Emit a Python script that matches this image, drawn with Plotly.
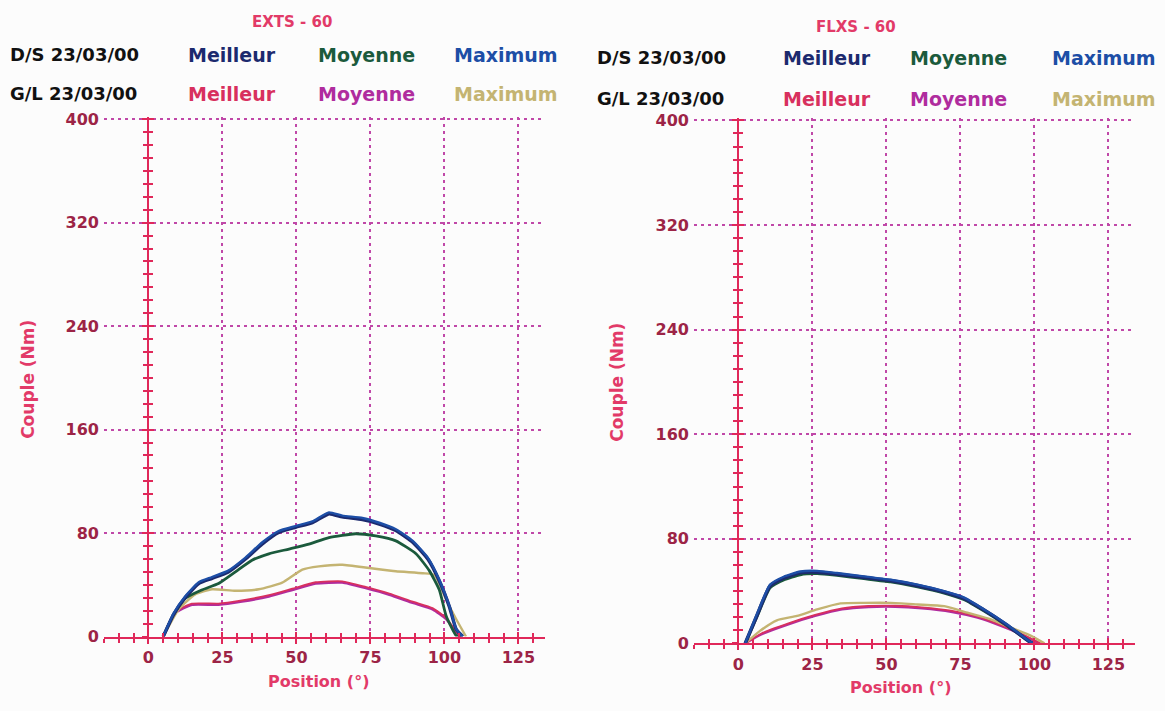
import plotly.graph_objects as go

# ---------------- data ----------------
# EXTS - 60 (left panel)
ext_ds_max_x = [5, 8.5, 12.4, 17, 21.5, 27, 32.8, 38.4, 44, 49.7, 55.4, 61, 65.5, 72.3, 78, 83.6, 89.3, 94.4, 98.3, 101.7, 104, 106.2]
ext_ds_max_y = [0, 18, 31, 42, 46, 51, 61, 72.7, 81.6, 85.4, 89, 96, 93.5, 91.7, 88, 83, 74, 61, 43.7, 23.5, 5.8, 0]
ext_ds_best_y = [0, 17, 30, 41, 45, 50, 60, 71.5, 80.5, 84.5, 88, 95, 92.5, 90.5, 87, 82, 73, 60, 43, 23, 5.5, 0]
ext_ds_mean_x = [5, 8.5, 12.4, 18, 23.7, 29.4, 35, 40.7, 47.5, 54.2, 61, 70, 76.8, 83.6, 90.4, 94.9, 98.3, 100.6, 104, 105.5]
ext_ds_mean_y = [0, 17, 29.5, 36, 41, 50, 59, 64, 67.7, 71.5, 76.5, 79.5, 77.8, 74, 64, 51, 36, 16, 0.8, 0]
ext_gl_max_x = [5, 10.2, 15.8, 21.5, 29.4, 37.3, 45.2, 52, 57.6, 65.5, 74.6, 83.6, 92.7, 96.6, 100.6, 104, 107.3]
ext_gl_max_y = [0, 21, 32.6, 36.6, 35.4, 36.6, 41.7, 51.8, 54.3, 55.5, 53, 50.5, 49, 47.7, 28.5, 13.4, 0]
ext_gl_mean_x = [5, 9, 14.7, 23.7, 31.6, 40.7, 48.6, 56.5, 65.5, 73.4, 81.4, 89.3, 96, 100.6, 104, 105.6]
ext_gl_mean_y = [0, 18, 24.5, 24.5, 27, 31, 36, 41, 41.7, 37.4, 32.3, 26, 21, 13.4, 3.3, 0]
ext_gl_best_y = [0, 19, 25.5, 25.5, 28, 32, 37, 42, 42.7, 38.4, 33.3, 27, 22, 14.4, 3.8, 0]

# FLXS - 60 (right panel)
flx_ds_max_x = [2.3, 6.2, 10.7, 15.3, 20.9, 26.6, 33.3, 42.4, 51.4, 60.5, 69.5, 76.3, 83, 89.8, 94.4, 98.9, 100]
flx_ds_max_y = [0, 22, 45, 51, 55, 55.5, 53.8, 51.3, 48.7, 45, 40, 35, 26, 16, 8.3, 0.8, 0]
flx_ds_best_y = [0, 21, 44, 50, 54, 54.5, 53, 50.5, 48, 44.2, 39.3, 34.3, 25.5, 15.5, 8, 0.6, 0]
flx_ds_mean_y = [0, 20, 42.5, 48.5, 52.5, 53.3, 52, 49.5, 47, 43.3, 38.5, 33.5, 24.8, 15, 7.6, 0.5, 0]
flx_gl_max_x = [2.3, 7.3, 13, 19.8, 26.6, 34.5, 42.4, 51.4, 60.5, 69.5, 77.4, 85.3, 92, 98.9, 103.4]
flx_gl_max_y = [0, 9.6, 17.7, 21, 26, 30.6, 31, 31, 29.8, 28.5, 23.5, 18.4, 12, 5.8, 0]
flx_gl_mean_x = [2.3, 7.9, 16.9, 25.9, 35, 44, 53, 62, 71.8, 80.8, 88.7, 95.5, 101, 102]
flx_gl_mean_y = [0, 7, 14.6, 21, 26, 27.8, 28, 26.8, 24.2, 19.7, 13.4, 7, 0.8, 0]
flx_gl_best_y = [0, 7.8, 15.4, 21.8, 26.8, 28.6, 28.8, 27.6, 25, 20.4, 14, 7.5, 1.2, 0]

# labels
panel_titles = ["EXTS - 60", "FLXS - 60"]
row_labels = ["D/S 23/03/00", "G/L 23/03/00"]
series_names = ["Meilleur", "Moyenne", "Maximum"]
x_title = "Position (°)"
y_title = "Couple (Nm)"

# ---------------- styles ----------------
RED = "#e0285a"
GRID = "#c048a8"
TICK = "#9c2446"
TITLE_C = "#e23a68"
C_DS = {"Meilleur": "#1c2a6e", "Moyenne": "#1b5a3c", "Maximum": "#1d4ea6"}
C_GL = {"Meilleur": "#d8305e", "Moyenne": "#b02c9e", "Maximum": "#c4b472"}
FONT = "DejaVu Sans"

W, H = 1165, 711
fig = go.Figure()


def add(x, y, color, width, xa, ya, name):
    fig.add_trace(go.Scatter(x=x, y=y, mode="lines", name=name,
                             line=dict(color=color, width=width, shape="spline", smoothing=0.5),
                             xaxis=xa, yaxis=ya, showlegend=False, hoverinfo="skip"))


def holder(xa, ya):
    # empty trace so that the decorative overlay axis is drawn
    fig.add_trace(go.Scatter(x=[], y=[], mode="lines", xaxis=xa, yaxis=ya,
                             showlegend=False, hoverinfo="skip"))


# left panel traces
add(ext_gl_mean_x, ext_gl_mean_y, C_GL["Moyenne"], 2.4, "x", "y", "G/L Moyenne")
add(ext_gl_mean_x, ext_gl_best_y, C_GL["Meilleur"], 1.8, "x", "y", "G/L Meilleur")
add(ext_gl_max_x, ext_gl_max_y, C_GL["Maximum"], 2.4, "x", "y", "G/L Maximum")
add(ext_ds_mean_x, ext_ds_mean_y, C_DS["Moyenne"], 2.8, "x", "y", "D/S Moyenne")
add(ext_ds_max_x, ext_ds_best_y, C_DS["Meilleur"], 3.4, "x", "y", "D/S Meilleur")
add(ext_ds_max_x, ext_ds_max_y, C_DS["Maximum"], 2.4, "x", "y", "D/S Maximum")

# right panel traces
add(flx_gl_mean_x, flx_gl_mean_y, C_GL["Moyenne"], 2.4, "x2", "y2", "G/L Moyenne")
add(flx_gl_mean_x, flx_gl_best_y, C_GL["Meilleur"], 1.8, "x2", "y2", "G/L Meilleur")
add(flx_gl_max_x, flx_gl_max_y, C_GL["Maximum"], 2.4, "x2", "y2", "G/L Maximum")
add(flx_ds_max_x, flx_ds_mean_y, C_DS["Moyenne"], 2.8, "x2", "y2", "D/S Moyenne")
add(flx_ds_max_x, flx_ds_best_y, C_DS["Meilleur"], 3.6, "x2", "y2", "D/S Meilleur")
add(flx_ds_max_x, flx_ds_max_y, C_DS["Maximum"], 2.4, "x2", "y2", "D/S Maximum")

holder("x3", "y")
holder("x", "y3")
holder("x", "y5")
holder("x4", "y2")
holder("x2", "y4")
holder("x2", "y6")

XR = [-15, 134]
YR = [0, 402]
tickfont = dict(family=FONT, size=16, color=TICK, weight="bold")
grid = dict(showgrid=True, gridcolor=GRID, griddash="3px,4px", gridwidth=1.5)


def base_x(dom):
    return dict(domain=dom, range=XR, showline=True, linecolor=RED, linewidth=2,
                tick0=0, dtick=25, ticks="outside", ticklen=5, tickwidth=2, tickcolor=RED,
                minor=dict(tick0=0, dtick=5, ticks="outside", ticklen=4, tickwidth=1.5, tickcolor=RED),
                tickfont=tickfont, zeroline=False, fixedrange=True, **grid)


def inner_x(over, anchor):
    return dict(overlaying=over, anchor=anchor, range=XR, showline=False,
                tick0=0, dtick=25, ticks="inside", ticklen=5, tickwidth=2, tickcolor=RED,
                minor=dict(tick0=0, dtick=5, ticks="inside", ticklen=4, tickwidth=1.5, tickcolor=RED),
                showticklabels=False, showgrid=False, zeroline=False)


def base_y(dom, anchor):
    return dict(domain=dom, anchor=anchor, range=YR, showline=False, tick0=0, dtick=80,
                ticks="", tickfont=tickfont, zeroline=False, ticklabelstandoff=4, **grid)


def axis_y(over, pos, side_ticks, line):
    return dict(overlaying=over, anchor="free", position=pos, range=YR, showline=line,
                linecolor=RED, linewidth=2, tick0=0, dtick=80, ticks=side_ticks, ticklen=5,
                tickwidth=2, tickcolor=RED,
                minor=dict(tick0=0, dtick=10, ticks=side_ticks, ticklen=4, tickwidth=1.5, tickcolor=RED),
                showticklabels=False, showgrid=False, zeroline=False)


# pixel geometry -> paper domains
lx0 = 104
rx0 = 694
pxu = 2.96
ldom_x = [lx0 / W, (lx0 + 149 * pxu) / W]
rdom_x = [rx0 / W, (rx0 + 149 * pxu) / W]
ldom_y = [(H - 645) / H, (H - 112.3) / H]
rdom_y = [(H - 652) / H, (H - 113.5) / H]
lpos = (lx0 + 15 * pxu) / W
rpos = (rx0 + 15 * pxu) / W

fig.update_layout(
    width=W, height=H, margin=dict(l=0, r=0, t=0, b=0),
    paper_bgcolor="#fcfcfc", plot_bgcolor="#fcfcfc",
    xaxis=dict(anchor="y", **base_x(ldom_x)),
    yaxis=base_y(ldom_y, "x"),
    xaxis2=dict(anchor="y2", **base_x(rdom_x)),
    yaxis2=base_y(rdom_y, "x2"),
    xaxis3=inner_x("x", "y"),
    xaxis4=inner_x("x2", "y2"),
    yaxis3=axis_y("y", lpos, "outside", True),
    yaxis5=axis_y("y", lpos, "inside", False),
    yaxis4=axis_y("y2", rpos, "outside", True),
    yaxis6=axis_y("y2", rpos, "inside", False),
)

ann = []


def txt(text, px, py, size, color, xanchor="center", angle=0):
    ann.append(dict(text="<b>" + text + "</b>", x=px / W, y=1 - py / H, xref="paper", yref="paper",
                    xanchor=xanchor, yanchor="middle", showarrow=False, textangle=angle,
                    font=dict(family=FONT, size=size, color=color)))


# headers
txt(panel_titles[0], 292, 15, 15, TITLE_C)
txt(panel_titles[1], 856, 20, 15, TITLE_C)
for (lx, cx, ys) in [(8, [232, 366, 506], [49, 89]), (595, [827, 958, 1104], [52, 94])]:
    txt(row_labels[0], lx, ys[0], 18, "#111111", xanchor="left")
    txt(row_labels[1], lx, ys[1], 18, "#111111", xanchor="left")
    for name, c in zip(series_names, cx):
        txt(name, c, ys[0], 19, C_DS[name])
        txt(name, c, ys[1], 19, C_GL[name])

# axis titles
txt(y_title, 28, 382, 17, TITLE_C, angle=-90)
txt(y_title, 617, 385, 17, TITLE_C, angle=-90)
txt(x_title, 318, 691, 16, TITLE_C)
txt(x_title, 900, 697, 16, TITLE_C)

fig.update_layout(annotations=ann)
fig.write_html("out.html", config={"displayModeBar": False},
               post_script="document.body.style.margin='0';document.body.style.overflow='hidden';")
